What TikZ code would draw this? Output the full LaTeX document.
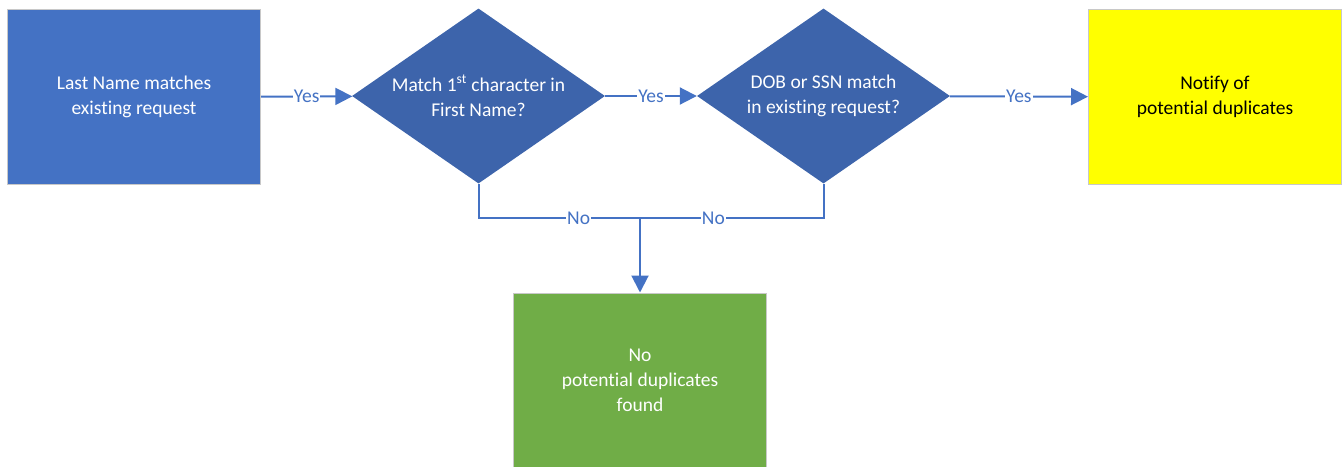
\documentclass[tikz,border=0pt]{standalone}
\usepackage{fontspec}
\setmainfont{Carlito}[Ligatures={NoCommon}]
\usepackage{tikz}
\usetikzlibrary{shapes.geometric,arrows.meta,positioning}
\definecolor{myblue}{RGB}{68,114,196}
\definecolor{mydarkblue}{RGB}{61,100,171}
\definecolor{mygreen}{RGB}{112,173,71}
\definecolor{myyellow}{RGB}{255,255,0}
\definecolor{myborder}{RGB}{200,200,200}

\begin{document}
\begin{tikzpicture}[
  x=1pt, y=-1pt,
  font=\fontsize{19.5}{25}\selectfont,
  mybox/.style={
    draw=myborder,
    line width=1pt,
    rectangle,
    minimum width=253pt,
    minimum height=175pt,
    align=center,
    text=white,
    fill=#1
    },
  mydiamond/.style={
    diamond,
    aspect=1.45,
    fill=mydarkblue,
    minimum width=253pt,
    minimum height=175pt,
    inner sep=0pt,
    align=center,
    text=white
    },
  myline/.style={draw=myblue, line width=2pt},
  myarrow/.style={myline, -{Triangle[length=17pt,width=17pt]}},
  mylabel/.style={fill=white, text=myblue, inner sep=1pt}
]

\useasboundingbox (0,0) rectangle (1343,466);

\node[mybox=myblue] (lastname) at (134,97)
  {Last Name matches\\existing request};
\node[mydiamond] (firstchar) at (478.5,96)
  {Match 1\textsuperscript{st} character in\\First Name?};
\node[mydiamond] (dobssn) at (823.5,96)
  {DOB or SSN match\\in existing request?};
\node[mybox=myyellow, text=black] (notify) at (1215,97)
  {Notify of\\potential duplicates};
\node[mybox=mygreen] (noduplicates) at (640,380.5)
  {No\\potential duplicates\\found};
\coordinate (join) at (640,218);

\draw[myarrow] (lastname) -- node[mylabel] {Yes} (firstchar);
\draw[myarrow] (firstchar) -- node[mylabel] {Yes} (dobssn);
\draw[myarrow] (dobssn) -- node[mylabel] {Yes} (notify);

\draw[myline] (firstchar.south) |- node[mylabel, pos=0.81] {No} (join);
\draw[myline] (dobssn.south) |- node[mylabel, pos=0.8] {No} (join);
\draw[myarrow] (join) -- (noduplicates);
\end{tikzpicture}
\end{document}
